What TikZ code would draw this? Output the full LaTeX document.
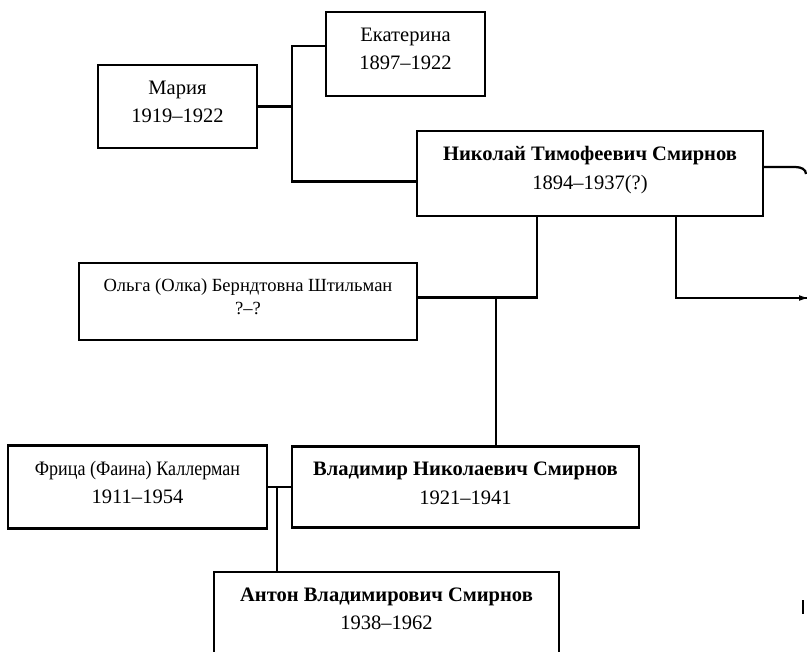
\documentclass[tikz,border=0pt]{standalone}
\usepackage{fontspec}
\setmainfont{Liberation Serif}
\newfontfamily\narrowserif[FakeStretch=0.88]{Liberation Serif}
\usetikzlibrary{positioning}

\tikzset{
  famtree/.style={x=0.025cm, y=-0.025cm},
  pbox/.style={draw, line width=1.6pt, inner sep=0pt},
  ptext/.style={align=center, inner sep=0pt, font=\fontsize{14.6}{20.3}\selectfont},
  small/.style={font=\fontsize{13.2}{16.5}\selectfont},
  link/.style={line width=1.6pt},
}

\begin{document}
\begin{tikzpicture}[famtree]
\useasboundingbox (0,0) rectangle (807,651);
\clip (0,0) rectangle (807,651);

% one person: #1 id, #2 centre, #3 width, #4 height (px), #5 text style, #6 text
\newcommand{\fambox}[6]{%
  \node[pbox, minimum width={#3*0.025cm}, minimum height={#4*0.025cm}] (#1) at #2 {};
  \node[ptext, #5, below=0.41cm of #1.north] (#1t) {#6};
}

% ---- upper generation ----
\fambox{maria}{(177.5,106.5)}{159}{83}{}{Мария\\1919–1922}
\fambox{ekat}{(405.5,54)}{159}{84}{}{Екатерина\\1897–1922}
\fambox{nikolai}{(590,173.5)}{346}{85}{}{\textbf{Николай Тимофеевич Смирнов}\\1894–1937(?)}
\fambox{olga}{(248,301.5)}{338}{77}{small}{Ольга (Олка) Берндтовна Штильман\\?–?}

% ---- lower generations ----
\fambox{fritsa}{(137.5,487)}{259}{83}{}{{\narrowserif Фрица (Фаина) Каллерман}\\1911–1954}
\fambox{vladimir}{(465.5,487)}{347}{81}{}{\textbf{Владимир Николаевич Смирнов}\\1921–1941}
\fambox{anton}{(386.5,617)}{345}{90}{}{\textbf{Антон Владимирович Смирнов}\\1938–1962}

% junctions and cut-off ends
\coordinate (mj) at (292,106.5);
\coordinate (ov) at (496,298);
\coordinate (fv) at (277,488);
\coordinate (offa) at (806,174);
\coordinate (offb) at (807,298);

\draw[link] (maria.east) -- (mj);
\draw[link] ([yshift=2mm]ekat.west) -| (mj) |- ([yshift=-2mm]nikolai.west);

\draw[link] ([xshift=-13.25mm]nikolai.south) |- ([yshift=1mm]olga.east);
\draw[link] (ov) -- (ov |- vladimir.north);

\draw[link] ([yshift=1.6mm]nikolai.east) -- ++(0.8cm,0) to[out=0, in=90] (offa);
\draw[link] ([xshift=21.5mm]nikolai.south) |- (offb);
\fill (offb) -- ++(-0.2cm,0.07cm) -- ++(0,-0.14cm) -- cycle;

\draw[link] (fritsa.east) -- (vladimir.west);
\draw[link] (fv) -- (fv |- anton.north);

\draw[line width=1.8pt] (803,600) -- (803,614);
\end{tikzpicture}
\end{document}
